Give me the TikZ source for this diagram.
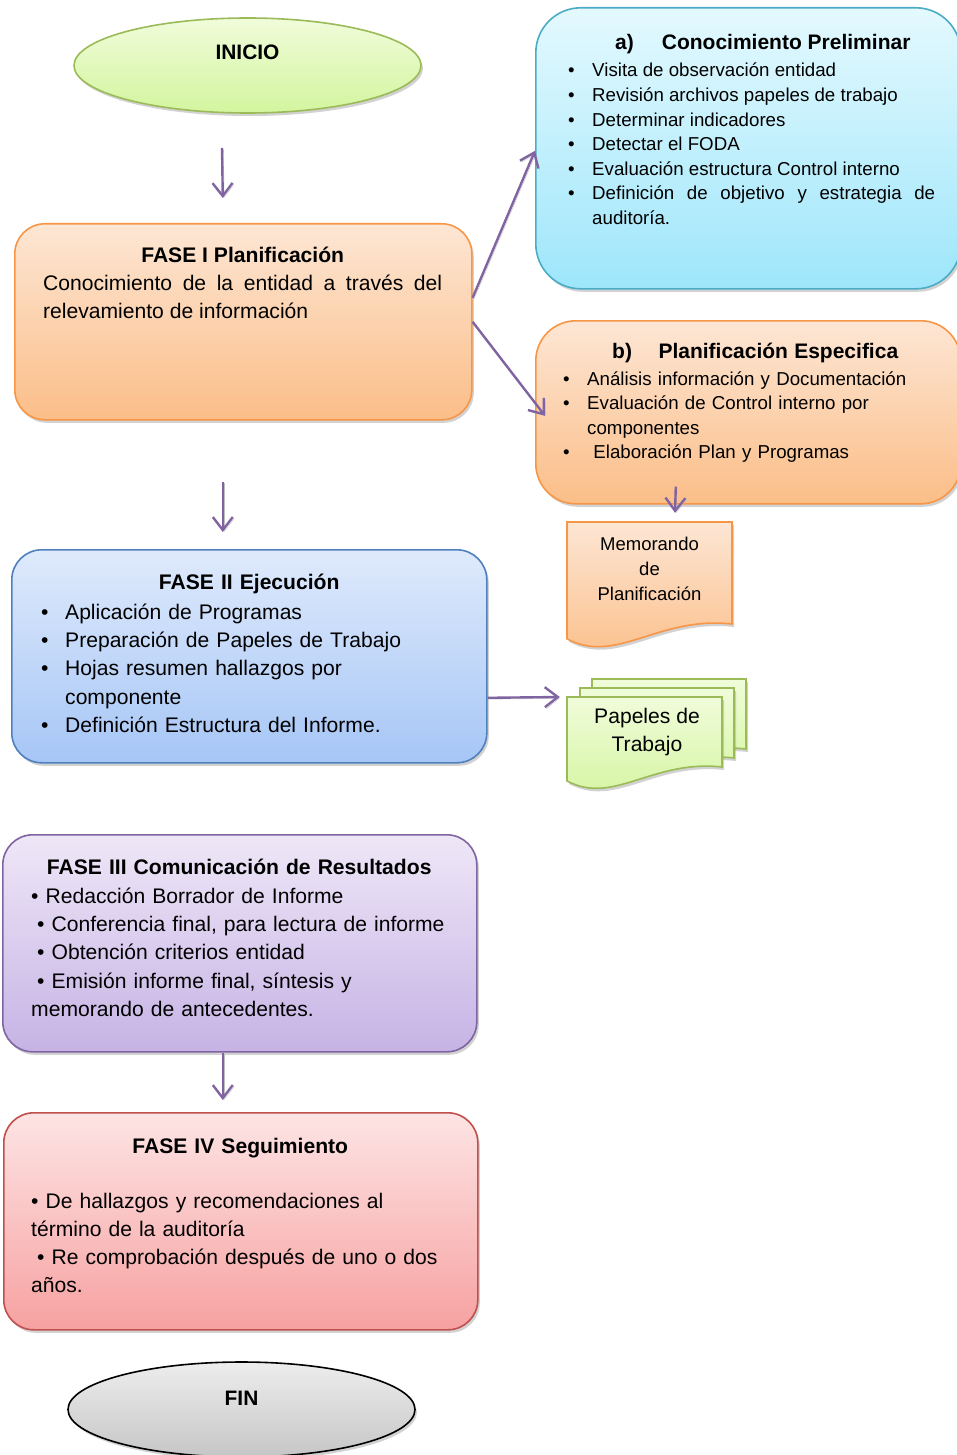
\documentclass[tikz,border=0pt]{standalone}
\usepackage{fontspec}
\setmainfont{Liberation Sans}
\usetikzlibrary{positioning,arrows.meta,shapes.geometric,shadows}
\definecolor{lila}{HTML}{8064A2}
\definecolor{verdeB}{HTML}{9BBB59}
\definecolor{verdeA}{HTML}{F0FCDA}
\definecolor{verdeC}{HTML}{D3F59E}
\definecolor{naranjaB}{HTML}{F79646}
\definecolor{naranjaA}{HTML}{FDE6D4}
\definecolor{naranjaC}{HTML}{FBBE88}
\definecolor{azulB}{HTML}{4F81BD}
\definecolor{azulA}{HTML}{DFEAFC}
\definecolor{azulC}{HTML}{A6C6F6}
\definecolor{cianB}{HTML}{4BACC6}
\definecolor{cianA}{HTML}{E4F9FE}
\definecolor{cianC}{HTML}{9EE6FB}
\definecolor{moradoB}{HTML}{8064A2}
\definecolor{moradoA}{HTML}{EEE7F7}
\definecolor{moradoC}{HTML}{C6B3E5}
\definecolor{rojoB}{HTML}{C0504D}
\definecolor{rojoA}{HTML}{FDE4E4}
\definecolor{rojoC}{HTML}{F7A1A1}
\definecolor{grisA}{HTML}{EDEDED}
\definecolor{grisC}{HTML}{C6C6C6}
\hyphenpenalty=10000
\setlength{\parindent}{0pt}
\newcommand{\punto}[1]{\par\hangindent=24pt\hangafter=1\noindent\makebox[24pt][l]{\textbullet}#1}
\newcommand{\hoja}[5]{%
  \draw[#5] (#1,#2) -- ({#1+#3},#2) -- ({#1+#3},{#2+#4})
    .. controls ({#1+0.55*#3},{#2+#4-0.05*#3}) and ({#1+0.3*#3},{#2+#4+0.25*#3}) .. (#1,{#2+#4+0.09*#3}) -- cycle;}

\begin{document}
\begin{tikzpicture}[x=1pt,y=-1pt,>={Straight Barb[length=13pt,width=20pt]},
  sombra/.style={drop shadow={shadow xshift=2pt,shadow yshift=-3pt,fill=black!35}},
  caja/.style={draw,line width=1.6pt,rounded corners=30pt,inner sep=0pt,anchor=north west,sombra},
  verde/.style={draw=verdeB,top color=verdeA,bottom color=verdeC},
  naranja/.style={draw=naranjaB,top color=naranjaA,bottom color=naranjaC},
  azul/.style={draw=azulB,top color=azulA,bottom color=azulC},
  cian/.style={draw=cianB,top color=cianA,bottom color=cianC},
  morado/.style={draw=moradoB,top color=moradoA,bottom color=moradoC},
  rojo/.style={draw=rojoB,top color=rojoA,bottom color=rojoC},
  gris/.style={draw=black,top color=grisA,bottom color=grisC},
  elipse/.style={ellipse,line width=1.6pt,minimum width=347pt,minimum height=95pt,inner sep=0pt,
    font=\fontsize{20.9}{25}\selectfont\bfseries,sombra},
  texto/.style={inner sep=0pt,anchor=north west,font=\fontsize{21.1}{28.3}\selectfont},
  textochico/.style={inner sep=0pt,anchor=north west,font=\fontsize{18.7}{24.6}\selectfont,
    text width=367pt,align=justify},
  flecha/.style={->,draw=lila,line width=2.4pt,
    preaction={draw=black!25,transform canvas={shift={(1.4pt,-1.4pt)}}}}]
\fill[white] (0,0) rectangle (957,1455);
\useasboundingbox (0,0) rectangle (957,1455);

% columna principal
\node[elipse,verde] (inicio) at (247.5,65.5) {\raisebox{26pt}{INICIO}};
\node[caja,naranja,minimum width=457pt,minimum height=196pt] (fase1) at (14,223) {};
\node[texto,text width=399pt,align=justify] (fase1txt) at (43,246.5)
  {{\centering\bfseries FASE I Planificación\par}Conocimiento de la entidad a través del relevamiento de información\par};
\node[caja,azul,minimum width=475pt,minimum height=213pt] (fase2) at (11,549) {};
\node[texto,text width=416pt,align=left] (fase2txt) at (41,573.5)
  {{\centering\bfseries FASE II Ejecución\par}\vspace{1.7pt}\punto{Aplicación de Programas}\punto{Preparación de Papeles de Trabajo}\punto{Hojas resumen hallazgos por componente}\punto{Definición Estructura del Informe.}\par};
\node[caja,morado,minimum width=474pt,minimum height=217pt] (fase3) at (2,834) {};
\node[texto,text width=432pt,align=left] (fase3txt) at (31,858.5)
  {{\centering\bfseries FASE III Comunicación de Resultados\rule{16pt}{0pt}\par}\vspace{0.7pt}\textbullet\ Redacción Borrador de Informe\par\hspace*{6pt}\textbullet\ Conferencia final, para lectura de informe\par\hspace*{6pt}\textbullet\ Obtención criterios entidad\par\hspace*{6pt}\textbullet\ Emisión informe final, síntesis y memorando de antecedentes.\par};
\node[caja,rojo,minimum width=474pt,minimum height=217pt] (fase4) at (3,1112) {};
\node[texto,text width=418pt,align=left] (fase4txt) at (31,1137.5)
  {{\centering\bfseries FASE IV Seguimiento\par}\vspace{26.7pt}\textbullet\ De hallazgos y recomendaciones al término de la auditoría\par\hspace*{6pt}\textbullet\ Re comprobación después de uno o dos años.\par};
\node[elipse,gris] (fin) at (241.5,1409.5) {\raisebox{22.5pt}{FIN}};

% columna derecha
\node[caja,cian,rounded corners=45pt,minimum width=425pt,minimum height=281pt] (cona) at (535,7) {};
\node[textochico] (conatxt) at (568,34.5)
  {\hspace*{47pt}{\fontsize{21}{24.6}\selectfont\bfseries a)\hspace{28pt}Conocimiento Preliminar}\par\vspace{2.4pt}\punto{Visita de observación entidad}\punto{Revisión archivos papeles de trabajo}\punto{Determinar indicadores}\punto{Detectar el FODA}\punto{Evaluación estructura Control interno}\punto{Definición de objetivo y estrategia de auditoría.}\par};
\node[caja,naranja,rounded corners=40pt,minimum width=425pt,minimum height=183pt] (planb) at (535,320) {};
\node[textochico,text width=360pt,align=left] (planbtxt) at (563,342.5)
  {\hspace*{49pt}{\fontsize{21}{24.6}\selectfont\bfseries b)\hspace{26.5pt}Planificación Especifica}\par\vspace{2.4pt}\punto{Análisis información y Documentación}\punto{Evaluación de Control interno por componentes}\punto{\ Elaboración Plan y Programas}\par};

% documentos
\hoja{567}{522}{165}{102}{naranja,line width=1.6pt,sombra}
\node[inner sep=0pt,minimum width=165pt,minimum height=94pt,align=center,font=\fontsize{18.5}{25}\selectfont] (memo) at (649.5,569) {Memorando\\de\\Planificación};
\hoja{592}{679}{154}{70}{verde,line width=1.6pt,sombra}
\hoja{580}{688}{154}{70}{verde,line width=1.6pt,sombra}
\hoja{567}{697}{155}{70}{verde,line width=1.6pt,sombra}
\node[inner sep=0pt,minimum width=155pt,align=center,font=\fontsize{21.1}{28}\selectfont] (papeles) at (647,732) {Papeles de\\Trabajo};

% flechas
\draw[flecha] ([xshift=-25.5pt,yshift=-34pt]inicio.south) -- ([xshift=-20.5pt,yshift=25pt]fase1.north);
\draw[flecha] ([xshift=-20.5pt,yshift=-61pt]fase1.south) -- ([xshift=-26.5pt,yshift=17pt]fase2.north);
\draw[flecha] (fase3.south) ++(-17pt,0) -- ([xshift=-18pt,yshift=12pt]fase4.north);
\draw[flecha] ([yshift=24pt]fase1.east) -- ([yshift=-2.5pt]cona.west);
\draw[flecha] (fase1.east) -- ([xshift=10pt,yshift=-3.5pt]planb.west);
\draw[flecha] ([xshift=-72.5pt,yshift=18pt]planb.south) -- ([xshift=25.5pt,yshift=9pt]memo.north);
\draw[flecha] ([yshift=-41.5pt]fase2.east) -- ([xshift=-9.5pt,yshift=35pt]papeles.west);
\end{tikzpicture}
\end{document}
